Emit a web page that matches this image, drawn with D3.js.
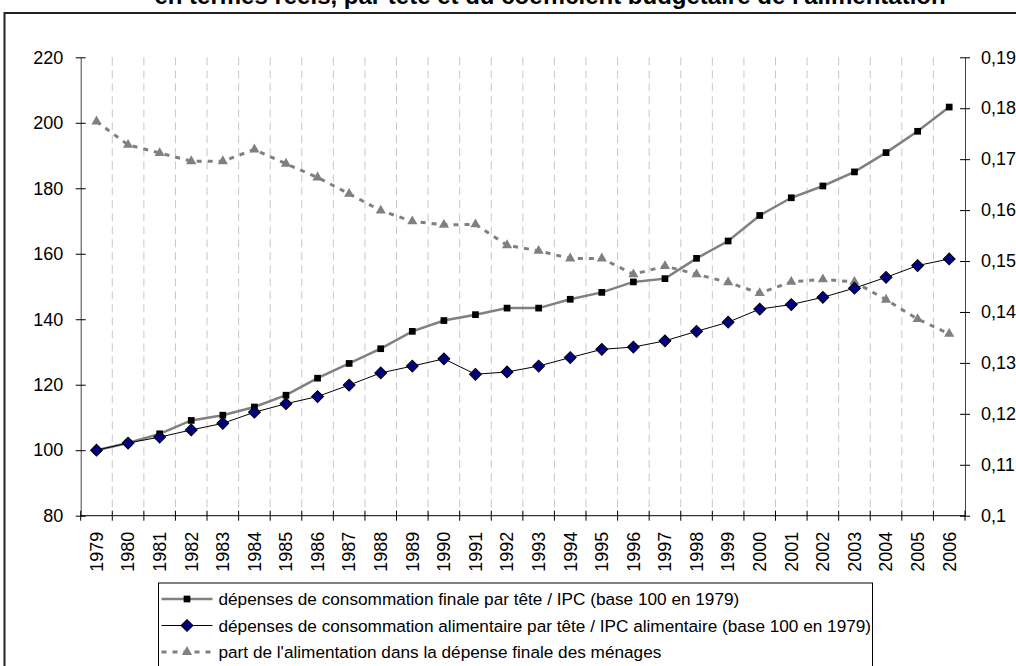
<!DOCTYPE html>
<html>
<head>
<meta charset="utf-8">
<script src="https://cdnjs.cloudflare.com/ajax/libs/d3/7.8.5/d3.min.js"></script>
<style>
body{margin:0;background:#fff;overflow:hidden}
svg{display:block;font-family:"Liberation Sans",Arial,sans-serif}
</style>
</head>
<body>
<div id="main"></div>
<script>
// --- data ---
var years=['1979','1980','1981','1982','1983','1984','1985','1986','1987','1988','1989','1990','1991','1992',
           '1993','1994','1995','1996','1997','1998','1999','2000','2001','2002','2003','2004','2005','2006'];
var depFinale=[100,102.2,105.0,109.1,110.7,113.2,116.8,122.0,126.5,131.0,136.3,139.6,141.4,143.4,
               143.4,146.1,148.2,151.4,152.4,158.6,163.9,171.7,177.1,180.7,185.0,190.9,197.4,204.8];
var depAlim=[100,102.2,104.0,106.2,108.2,111.6,114.2,116.4,119.9,123.6,125.7,127.9,123.2,123.9,
             125.7,128.3,130.8,131.5,133.4,136.3,139.1,143.1,144.5,146.7,149.5,152.8,156.4,158.4];
var partAlim=[0.1774,0.1728,0.1712,0.1696,0.1696,0.1719,0.1691,0.1664,0.1632,0.1599,0.1578,0.1571,0.1572,0.1531,
              0.1520,0.1505,0.1505,0.1474,0.1490,0.1474,0.1458,0.1437,0.1459,0.1464,0.1459,0.1424,0.1386,0.1357];
var leftTicks=[80,100,120,140,160,180,200,220];
var rightTicks=[0.1,0.11,0.12,0.13,0.14,0.15,0.16,0.17,0.18,0.19];
var rightLabels=['0,1','0,11','0,12','0,13','0,14','0,15','0,16','0,17','0,18','0,19'];
var legendLabels=['dépenses de consommation finale par tête / IPC (base 100 en 1979)',
                  'dépenses de consommation alimentaire par tête / IPC alimentaire (base 100 en 1979)',
                  "part de l'alimentation dans la dépense finale des ménages"];
var title="en termes réels, par tête et du coefficient budgétaire de l'alimentation";

var W=1016,H=666;
var pLeft=80.7,pRight=965,pTop=57.3,pBottom=515.7;

var svg=d3.select('#main').append('svg')
    .attr('width',W)
    .attr('height',H);

// title (cut at top in the original) and frame
svg.append('text')
    .attr('x',550).attr('y',4)
    .attr('text-anchor','middle')
    .style('font-weight','bold')
    .style('font-size','24px')
    .text(title);
svg.append('rect')
    .attr('x',4.5).attr('y',13)
    .attr('width',W+20).attr('height',H+20)
    .attr('fill','none')
    .attr('stroke','#222')
    .attr('stroke-width',2);

var x=d3.scaleBand().domain(years).range([pLeft,pRight]).padding(0);
var yL=d3.scaleLinear().domain([80,220]).range([pBottom,pTop]);
var yR=d3.scaleLinear().domain([0.1,0.19]).range([pBottom,pTop]);

// dashed vertical gridlines between years
svg.append('g').selectAll('line')
    .data(years.slice(1))
  .enter().append('line')
    .attr('x1',function(d){return x(d)})
    .attr('x2',function(d){return x(d)})
    .attr('y1',pTop).attr('y2',pBottom)
    .attr('stroke','#c8c8c8')
    .attr('stroke-dasharray','8,5');

// left axis
var gL=svg.append('g')
    .attr('transform','translate('+pLeft+',0)')
    .call(d3.axisLeft(yL).tickValues(leftTicks).tickSize(5).tickPadding(12.5).tickSizeOuter(0));
gL.select('.domain').attr('stroke','#444');
gL.selectAll('.tick line').attr('x1',5).attr('x2',-5);
gL.selectAll('text').style('font-size','18px').attr('fill','#000');

// right axis
var gR=svg.append('g')
    .attr('transform','translate('+pRight+',0)')
    .call(d3.axisRight(yR).tickValues(rightTicks).tickFormat(function(d,i){return rightLabels[i]})
          .tickSize(5).tickPadding(11).tickSizeOuter(0));
gR.select('.domain').attr('stroke','#444');
gR.selectAll('.tick line').attr('x1',-5).attr('x2',5);
gR.selectAll('text').style('font-size','18px').attr('fill','#000');

// bottom axis: labels at band centres, ticks at band edges
var gX=svg.append('g')
    .attr('transform','translate(0,'+pBottom+')')
    .call(d3.axisBottom(x).tickSize(0).tickSizeOuter(0));
gX.select('.domain').remove();
gX.selectAll('text')
    .attr('transform','rotate(-90)')
    .attr('x',-16).attr('y',0).attr('dy','0.35em')
    .attr('text-anchor','end')
    .style('font-size','18px')
    .attr('fill','#000');
svg.append('line')
    .attr('x1',pLeft).attr('x2',pRight)
    .attr('y1',pBottom).attr('y2',pBottom)
    .attr('stroke','#000');
svg.append('g').selectAll('line')
    .data(years.concat(['end']))
  .enter().append('line')
    .attr('x1',function(d){return d=='end'?pRight:x(d)})
    .attr('x2',function(d){return d=='end'?pRight:x(d)})
    .attr('y1',pBottom-5).attr('y2',pBottom+5)
    .attr('stroke','#000');

function cx(d,i){return x(years[i])+x.bandwidth()/2}

// series 3: share of food (right axis)
svg.append('path')
    .datum(partAlim)
    .attr('d',d3.line().x(cx).y(function(d){return yR(d)}))
    .attr('fill','none')
    .attr('stroke','#808080')
    .attr('stroke-width',3)
    .attr('stroke-dasharray','5,6');
svg.append('g').selectAll('path')
    .data(partAlim)
  .enter().append('path')
    .attr('transform',function(d,i){return 'translate('+cx(d,i)+','+yR(d)+')'})
    .attr('d',d3.symbol(d3.symbolTriangle,45))
    .attr('fill','#808080');

// series 1: final consumption
svg.append('path')
    .datum(depFinale)
    .attr('d',d3.line().x(cx).y(function(d){return yL(d)}))
    .attr('fill','none')
    .attr('stroke','#808080')
    .attr('stroke-width',2.5);
svg.append('g').selectAll('path')
    .data(depFinale)
  .enter().append('path')
    .attr('transform',function(d,i){return 'translate('+cx(d,i)+','+yL(d)+')'})
    .attr('d',d3.symbol(d3.symbolSquare,45))
    .attr('fill','#000');

// series 2: food consumption
svg.append('path')
    .datum(depAlim)
    .attr('d',d3.line().x(cx).y(function(d){return yL(d)}))
    .attr('fill','none')
    .attr('stroke','#000')
    .attr('stroke-width',1);
svg.append('g').selectAll('path')
    .data(depAlim)
  .enter().append('path')
    .attr('transform',function(d,i){return 'translate('+cx(d,i)+','+yL(d)+') rotate(45)'})
    .attr('d',d3.symbol(d3.symbolSquare,70))
    .attr('fill','#000080')
    .attr('stroke','#000')
    .attr('stroke-width',1);

// legend
var lg=svg.append('g').attr('transform','translate(158.5,583)');
lg.append('rect')
    .attr('width',714).attr('height',120)
    .attr('fill','#fff').attr('stroke','#000');
var rows=[
  {color:'#808080',w:2.5,dash:null,sym:d3.symbolSquare,size:45,fill:'#000',rot:0,stroke:'none'},
  {color:'#000',w:1,dash:null,sym:d3.symbolSquare,size:70,fill:'#000080',rot:45,stroke:'#000'},
  {color:'#808080',w:3,dash:'5,6',sym:d3.symbolTriangle,size:45,fill:'#808080',rot:0,stroke:'none'}
];
var row=lg.selectAll('.row')
    .data(legendLabels)
  .enter().append('g')
    .attr('class','row')
    .attr('transform',function(d,i){return 'translate(0,'+(16+i*26.5)+')'});
row.append('line')
    .attr('x1',3).attr('x2',54)
    .attr('stroke',function(d,i){return rows[i].color})
    .attr('stroke-width',function(d,i){return rows[i].w})
    .attr('stroke-dasharray',function(d,i){return rows[i].dash});
row.append('path')
    .attr('transform',function(d,i){return 'translate(28.5,0) rotate('+rows[i].rot+')'})
    .attr('d',function(d,i){return d3.symbol(rows[i].sym,rows[i].size)()})
    .attr('fill',function(d,i){return rows[i].fill})
    .attr('stroke',function(d,i){return rows[i].stroke});
row.append('text')
    .attr('x',60).attr('dy','0.35em')
    .style('font-size','17.2px')
    .text(function(d){return d});
</script>
</body>
</html>
